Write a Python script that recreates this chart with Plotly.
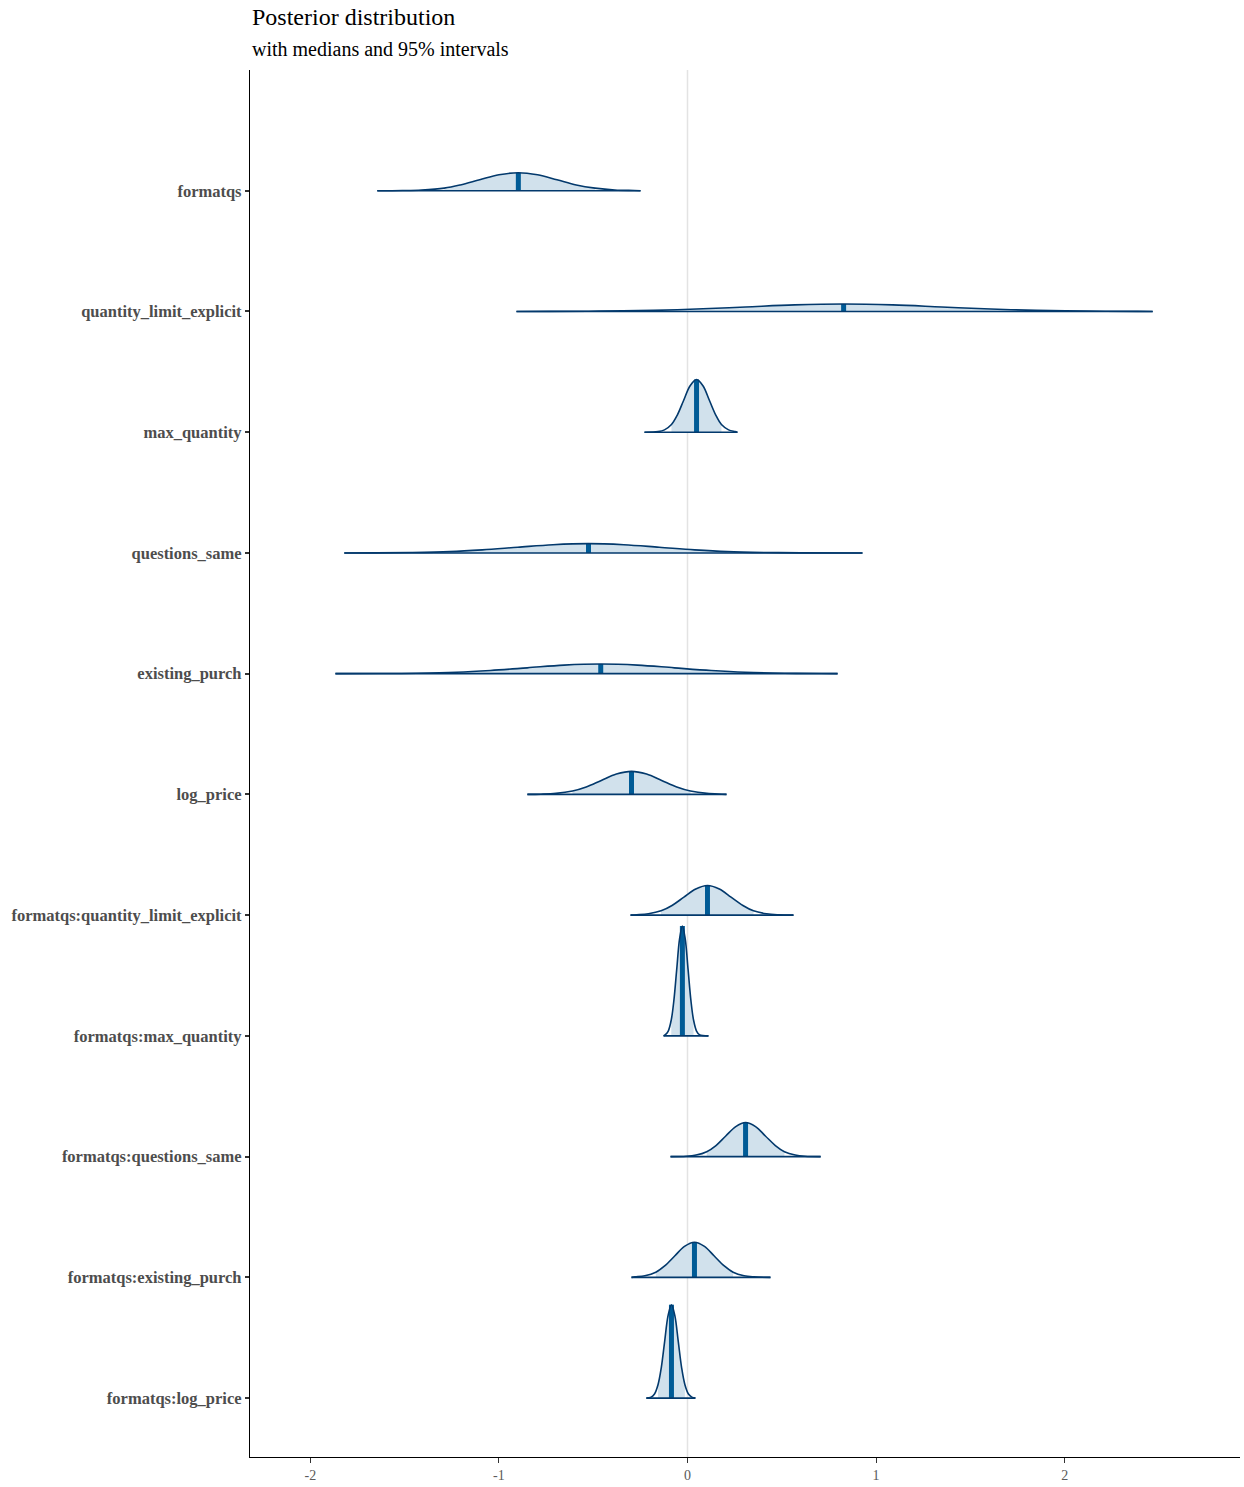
import plotly.graph_objects as go

# Parameters, listed top to bottom as they appear on the chart
params = [
    "formatqs", "quantity_limit_explicit", "max_quantity", "questions_same",
    "existing_purch", "log_price", "formatqs:quantity_limit_explicit",
    "formatqs:max_quantity", "formatqs:questions_same",
    "formatqs:existing_purch", "formatqs:log_price",
]

medians = [-0.897, 0.828, 0.048, -0.525, -0.46, -0.297, 0.106, -0.027, 0.308, 0.037, -0.085]
lo95 = [-1.29, -0.18, -0.085, -1.26, -1.225, -0.61, -0.14, -0.086, 0.102, -0.168, -0.156]
hi95 = [-0.49, 1.85, 0.18, 0.21, 0.305, 0.016, 0.35, 0.032, 0.514, 0.242, -0.014]

# Density knots (x) and scaled density heights (d), equal-area scaling
dens_x = [
    [-1.645, -1.512, -1.410, -1.29, -1.205, -1.102, -1.0, -0.897, -0.795, -0.692, -0.59, -0.49, -0.385, -0.282, -0.249],
    [-0.907, -0.732, -0.472, -0.18, 0.048, 0.308, 0.568, 0.828, 1.088, 1.348, 1.608, 1.85, 2.128, 2.388, 2.467],
    [-0.228, -0.156, -0.122, -0.085, -0.054, -0.020, 0.014, 0.048, 0.082, 0.116, 0.150, 0.18, 0.218, 0.252, 0.265],
    [-1.82, -1.65, -1.463, -1.26, -1.088, -0.90, -0.713, -0.525, -0.338, -0.15, 0.038, 0.21, 0.413, 0.60, 0.928],
    [-1.867, -1.63, -1.435, -1.225, -1.045, -0.85, -0.655, -0.46, -0.265, -0.07, 0.125, 0.305, 0.515, 0.71, 0.796],
    [-0.849, -0.777, -0.697, -0.61, -0.537, -0.457, -0.377, -0.297, -0.217, -0.137, -0.057, 0.016, 0.103, 0.183, 0.207],
    [-0.302, -0.269, -0.207, -0.14, -0.082, -0.019, 0.044, 0.106, 0.169, 0.231, 0.294, 0.35, 0.419, 0.481, 0.562],
    [-0.127, -0.117, -0.102, -0.086, -0.072, -0.057, -0.042, -0.027, -0.012, 0.003, 0.018, 0.032, 0.048, 0.063, 0.111],
    [-0.09, -0.007, 0.046, 0.102, 0.151, 0.203, 0.256, 0.308, 0.361, 0.413, 0.466, 0.514, 0.571, 0.623, 0.706],
    [-0.297, -0.278, -0.226, -0.168, -0.121, -0.068, -0.016, 0.037, 0.090, 0.142, 0.195, 0.242, 0.30, 0.352, 0.44],
    [-0.218, -0.193, -0.175, -0.156, -0.139, -0.121, -0.103, -0.085, -0.067, -0.049, -0.031, -0.014, 0.005, 0.023, 0.042],
]
dens_y = [
    [0, 0.002, 0.007, 0.024, 0.053, 0.100, 0.145, 0.164, 0.145, 0.100, 0.053, 0.024, 0.007, 0.002, 0],
    [0, 0.001, 0.003, 0.010, 0.022, 0.041, 0.060, 0.068, 0.060, 0.041, 0.022, 0.010, 0.003, 0.001, 0],
    [0, 0.005, 0.021, 0.070, 0.156, 0.291, 0.423, 0.48, 0.423, 0.291, 0.156, 0.070, 0.021, 0.005, 0],
    [0, 0.001, 0.004, 0.012, 0.028, 0.052, 0.075, 0.085, 0.075, 0.052, 0.028, 0.012, 0.004, 0.001, 0],
    [0, 0.001, 0.004, 0.013, 0.029, 0.053, 0.078, 0.088, 0.078, 0.053, 0.029, 0.013, 0.004, 0.001, 0],
    [0, 0.002, 0.009, 0.031, 0.068, 0.127, 0.185, 0.21, 0.185, 0.127, 0.068, 0.031, 0.009, 0.002, 0],
    [0, 0.003, 0.012, 0.039, 0.088, 0.164, 0.238, 0.27, 0.238, 0.164, 0.088, 0.039, 0.012, 0.003, 0],
    [0, 0.011, 0.044, 0.146, 0.325, 0.607, 0.882, 1.0, 0.882, 0.607, 0.325, 0.146, 0.044, 0.011, 0],
    [0, 0.003, 0.014, 0.045, 0.101, 0.188, 0.273, 0.31, 0.273, 0.188, 0.101, 0.045, 0.014, 0.003, 0],
    [0, 0.004, 0.014, 0.047, 0.104, 0.194, 0.282, 0.32, 0.282, 0.194, 0.104, 0.047, 0.014, 0.004, 0],
    [0, 0.009, 0.037, 0.124, 0.276, 0.516, 0.75, 0.85, 0.75, 0.516, 0.276, 0.124, 0.037, 0.009, 0],
]

x_ticks = [-2, -1, 0, 1, 2]

# bayesplot "blue" scheme
LIGHT = "#d1e1ec"
MID_HL = "#005b96"
DARK = "#03396c"
ROW_SCALE = 0.91  # tallest density fills ~91% of a row

n = len(params)
fig = go.Figure()

for i, name in enumerate(params):
    base = n - 1 - i
    xs = dens_x[i]
    ys = [base + v * ROW_SCALE for v in dens_y[i]]

    # shaded 95% interval
    inner = [k for k, xv in enumerate(xs) if lo95[i] - 1e-9 <= xv <= hi95[i] + 1e-9]
    fig.add_trace(go.Scatter(x=[lo95[i], hi95[i]], y=[base, base], mode="lines",
                             line=dict(width=0), hoverinfo="skip", showlegend=False))
    fig.add_trace(go.Scatter(x=[xs[k] for k in inner], y=[ys[k] for k in inner],
                             mode="lines", line=dict(width=0, shape="spline", smoothing=1),
                             fill="tonexty", fillcolor=LIGHT,
                             hoverinfo="skip", showlegend=False))

    # median segment
    k_med = min(range(len(xs)), key=lambda k: abs(xs[k] - medians[i]))
    fig.add_trace(go.Scatter(x=[medians[i], medians[i]], y=[base, ys[k_med]], mode="lines",
                             line=dict(color=MID_HL, width=5),
                             hoverinfo="skip", showlegend=False))

    # baseline and outline over full range
    fig.add_trace(go.Scatter(x=[xs[0], xs[-1]], y=[base, base], mode="lines",
                             line=dict(color=DARK, width=1.6),
                             hoverinfo="skip", showlegend=False))
    fig.add_trace(go.Scatter(x=xs, y=ys, mode="lines",
                             line=dict(color=DARK, width=1.6, shape="spline", smoothing=1),
                             hoverinfo="skip", showlegend=False))

fig.add_shape(type="line", x0=0, x1=0, y0=0, y1=1, xref="x", yref="paper",
              line=dict(color="#e3e3e3", width=1.5), layer="below")

fig.update_layout(
    width=1244, height=1487,
    margin=dict(l=250, r=4, t=70, b=27),
    plot_bgcolor="white", paper_bgcolor="white",
    font=dict(family="Liberation Serif", color="#4d4d4d"),
    xaxis=dict(range=[-2.32, 2.93], tickvals=x_ticks, ticktext=[str(t) for t in x_ticks],
               showgrid=False, zeroline=False, showline=True, linecolor="black", linewidth=1.3,
               ticks="outside", ticklen=5, tickwidth=1, tickcolor="#333333",
               tickfont=dict(size=14, color="#5a5a5a")),
    yaxis=dict(range=[-0.488, 11.0], tickvals=[n - 1 - i for i in range(n)], ticktext=params,
               showgrid=False, zeroline=False, showline=True, linecolor="black", linewidth=1.3,
               ticks="outside", ticklen=4, tickwidth=2, tickcolor="#333333",
               tickfont=dict(size=16.5, color="#4d4d4d", weight="bold")),
    annotations=[
        dict(text="Posterior distribution", x=0, y=1.038, xref="paper", yref="paper",
             xanchor="left", yanchor="middle", showarrow=False,
             font=dict(size=24, color="black", family="Liberation Serif")),
        dict(text="with medians and 95% intervals", x=0, y=1.0155, xref="paper", yref="paper",
             xanchor="left", yanchor="middle", showarrow=False,
             font=dict(size=20, color="black", family="Liberation Serif")),
    ],
)

fig.write_html("out.html")
